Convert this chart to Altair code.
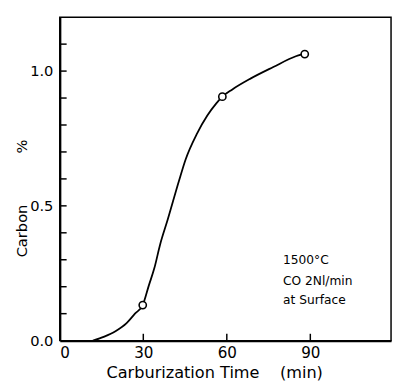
import altair as alt
import pandas as pd

# measured points
pt_time = [29.8, 58.4, 88.0]
pt_carbon = [0.132, 0.905, 1.063]

# traced smooth curve
curve_time = [11.9, 16.0, 20.0, 24.0, 27.0, 29.8, 32.0, 34.0, 36.0, 38.8, 42.8, 45.2, 49.3, 53.0, 56.3, 58.4, 62.0, 68.5, 76.7, 84.8, 87.0]
curve_carbon = [0.0, 0.015, 0.035, 0.065, 0.10, 0.132, 0.205, 0.27, 0.355, 0.45, 0.592, 0.672, 0.768, 0.835, 0.881, 0.905, 0.932, 0.972, 1.015, 1.055, 1.062]

x_ticks = [30, 60, 90]
y_ticks = [0.1, 0.2, 0.3, 0.4, 0.5, 0.6, 0.7, 0.8, 0.9, 1.0, 1.1]

notes = ["1500°C", "CO 2Nl/min", "at Surface"]
note_x = [80.2, 80.2, 80.2]
note_y = [0.298, 0.222, 0.149]

W, H = 339, 331
FONT = "DejaVu Sans"
NB = "\u00a0"

xs = alt.Scale(domain=[0, 119], nice=False, zero=False)
ys = alt.Scale(domain=[0, 1.2], nice=False)

curve_df = pd.DataFrame({"t": curve_time, "c": curve_carbon})
pts_df = pd.DataFrame({"t": pt_time, "c": pt_carbon})
xt_df = pd.DataFrame({"t": x_ticks})
yt_df = pd.DataFrame({"c": y_ticks})
note_df = pd.DataFrame({"t": note_x, "c": note_y, "label": notes})

line = alt.Chart(curve_df).mark_line(color="black", strokeWidth=1.8, interpolate="monotone").encode(
    x=alt.X("t:Q", scale=xs, axis=alt.Axis(
        title="Carburization" + NB + "Time" + NB * 4 + "(min)", values=[0, 30, 60, 90], ticks=False,
        grid=False, labelFontSize=15.5, titleFontSize=16.5, labelPadding=5,
        domainWidth=2.2, domainColor="black", labelColor="black", titleColor="black",
        labelFont=FONT, titleFont=FONT, titleFontWeight="normal",
        titleX=158, titleY=38, titleAlign="center", titleBaseline="alphabetic")),
    y=alt.Y("c:Q", scale=ys, axis=alt.Axis(
        title="Carbon" + NB * 11 + "%", values=[0.0, 0.5, 1.0], format=".1f", ticks=False,
        grid=False, labelFontSize=15, titleFontSize=15, labelPadding=7,
        domainWidth=2.2, domainColor="black", labelColor="black", titleColor="black",
        labelFont=FONT, titleFont=FONT, titleFontWeight="normal",
        titleAngle=270, titleX=-39, titleY=185, titleAlign="center", titleBaseline="middle")),
)

points = alt.Chart(pts_df).mark_point(shape="circle", filled=False, fill="white", fillOpacity=1,
                                      color="black", strokeWidth=1.6, size=55, opacity=1).encode(
    x=alt.X("t:Q", scale=xs), y=alt.Y("c:Q", scale=ys))

xticks = alt.Chart(xt_df).mark_rule(color="black", strokeWidth=1.5).encode(
    x=alt.X("t:Q", scale=xs), y=alt.value(H), y2=alt.value(H - 7))

yticks = alt.Chart(yt_df).mark_rule(color="black", strokeWidth=1.5).encode(
    y=alt.Y("c:Q", scale=ys), x=alt.value(0), x2=alt.value(7))

text = alt.Chart(note_df).mark_text(align="left", baseline="middle", fontSize=12.5, font=FONT, color="black").encode(
    x=alt.X("t:Q", scale=xs), y=alt.Y("c:Q", scale=ys), text="label:N")

chart = alt.layer(line, xticks, yticks, points, text).properties(
    width=W, height=H,
    autosize=alt.AutoSizeParams(type="none"),
    padding={"left": 53, "top": 5, "right": 2, "bottom": 40},
).configure_view(stroke="black", strokeWidth=1.5)

chart.save("out.html", embed_options={"renderer": "svg", "actions": False})
